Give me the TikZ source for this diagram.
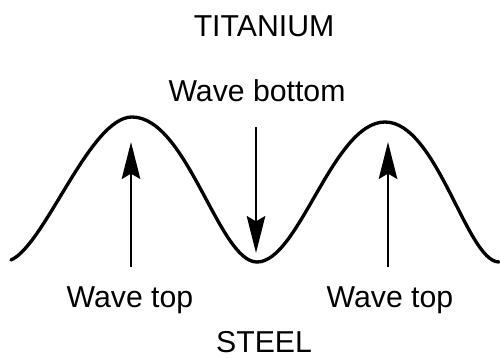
\documentclass[tikz,border=0pt]{standalone}
\usepackage{fontspec}
\setmainfont{Liberation Sans}
\usetikzlibrary{arrows.meta}
\begin{document}
\begin{tikzpicture}[x=0.02cm,y=-0.02cm,
  wave/.style={line width=1.9pt, line cap=round},
  marker/.style={line width=1.6pt, -{Stealth[length=21pt,width=10.5pt,inset=3pt]}},
  label/.style={anchor=base, inner sep=0pt, font=\fontsize{17.2}{20}\selectfont}]
\useasboundingbox (0,0) rectangle (500,358);
% labels
\node[label] (titanium) at (264,37) {TITANIUM};
\node[label] (bottomlbl) at (257,102) {Wave bottom};
\node[label] (topleft) at (130,307) {Wave top};
\node[label] (topright) at (390,307) {Wave top};
\node[label] (steel) at (264,352.5) {STEEL};
% wave
\coordinate (w0) at (11,260);
\coordinate (p1) at (132,117);
\coordinate (t1) at (257,262);
\coordinate (p2) at (385,122);
\coordinate (w1) at (499,262);
\draw[wave] (w0) .. controls (45,245) and (90,117) .. (p1)
  .. controls (187,117) and (219,262) .. (t1)
  .. controls (299,262) and (333,122) .. (p2)
  .. controls (437,122) and (467,262) .. (w1);
% arrows
\coordinate (a1s) at (131,267);
\coordinate (a1e) at (131,142);
\coordinate (a2s) at (256,127);
\coordinate (a2e) at (256,253);
\coordinate (a3s) at (388,267);
\coordinate (a3e) at (388,142);
\draw[marker] (a1s) -- (a1e);
\draw[marker] (a2s) -- (a2e);
\draw[marker] (a3s) -- (a3e);
\end{tikzpicture}
\end{document}
